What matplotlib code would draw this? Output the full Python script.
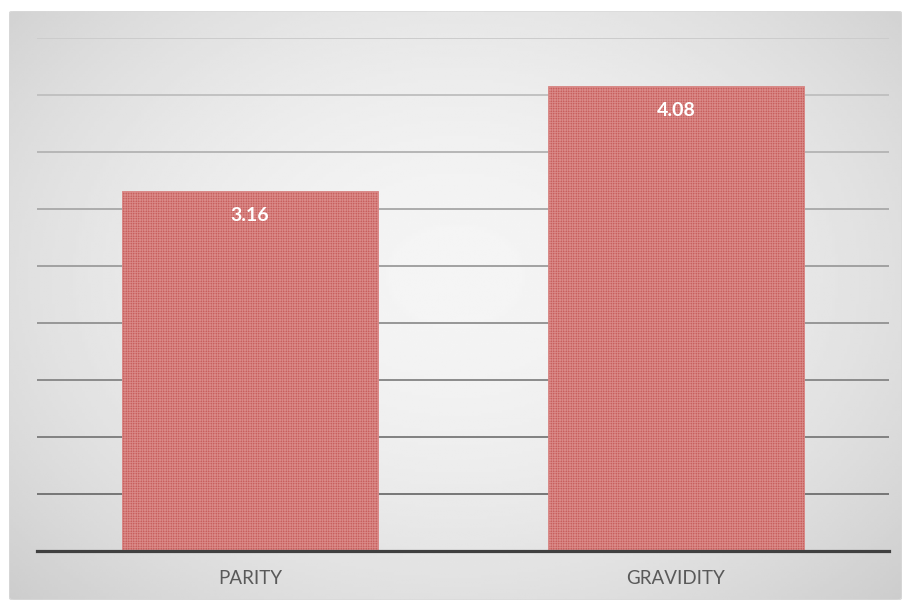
"""
Bar chart of mean parity and gravidity, drawn in the style of an office chart
with a shaded panel and patterned bars.
"""
import numpy as np
import matplotlib
matplotlib.use("Agg")
import matplotlib.pyplot as plt
from matplotlib.patches import FancyBboxPatch

# Data ------------------------------------------------------------------------

categories = ["PARITY", "GRAVIDITY"]
values = [3.16, 4.08]
grid_levels = [0.5, 1.0, 1.5, 2.0, 2.5, 3.0, 3.5, 4.0, 4.5]

# Figure ----------------------------------------------------------------------

plt.rcParams["font.family"] = ["Lato", "DejaVu Sans"]
plt.rcParams["hatch.linewidth"] = 0.5

fig = plt.figure(figsize=(9.03, 6.02), dpi=100)
fig.patch.set_facecolor("white")

# shaded background panel with a radial gradient
bg = fig.add_axes([9 / 903, 2 / 602, 893 / 903, 589 / 602])
bg.set_xlim(0, 1)
bg.set_ylim(0, 1)
bg.axis("off")
gx, gy = np.meshgrid(np.linspace(0, 1, 300), np.linspace(0, 1, 200))
dist = np.sqrt(((gx - 0.5) / 0.75) ** 2 + ((gy - 0.55) / 0.85) ** 2)
shade = 0.96 - 0.18 * np.clip(dist, 0, 1) ** 1.8
panel = FancyBboxPatch((0, 0), 1, 1, boxstyle="round,pad=0,rounding_size=0.006",
                       transform=bg.transAxes, facecolor="none",
                       edgecolor="#d9d9d9", linewidth=1.0)
bg.add_patch(panel)
img = bg.imshow(shade, cmap="gray", vmin=0, vmax=1, extent=(0, 1, 0, 1),
                origin="lower", aspect="auto", interpolation="bilinear")
img.set_clip_path(panel)

# chart area
ax = fig.add_axes([37 / 903, 51 / 602, 852 / 903, 513 / 602])
ax.patch.set_alpha(0)
ax.set_xlim(-0.5, 1.5)
ax.set_ylim(0, 4.5)

# gridlines get darker towards the baseline
for level in grid_levels:
    g = 0.42 + 0.38 * level / max(grid_levels)
    ax.axhline(level, color=(g, g, g), linewidth=1.4, zorder=1)

x = np.arange(len(categories))
bars = ax.bar(x, values, width=0.603, color="#bf4a48", edgecolor="#d98987",
              hatch="+" * 10, linewidth=0.6, zorder=2)

for bar, val in zip(bars, values):
    ax.text(bar.get_x() + bar.get_width() / 2, val - 0.22, "{:.2f}".format(val),
            ha="center", va="center", color="white", fontsize=14,
            fontweight="bold", zorder=3)

ax.axhline(0, color="#404040", linewidth=2.3, zorder=3, clip_on=False)

for spine in ax.spines.values():
    spine.set_visible(False)
ax.set_yticks([])
ax.set_xticks(x)
ax.set_xticklabels(categories, fontsize=13.5, color="#595959")
ax.tick_params(axis="x", length=0, pad=14)

fig.savefig("out.png", dpi=100)
